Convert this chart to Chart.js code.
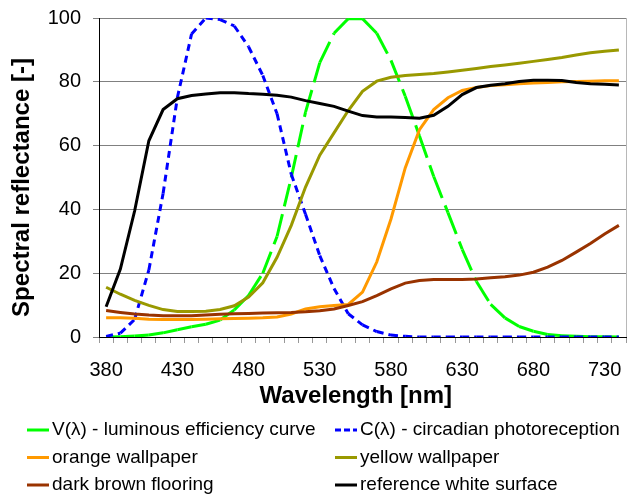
<!DOCTYPE html>
<html>
<head>
<meta charset="utf-8">
<script src="https://cdn.jsdelivr.net/npm/chart.js@4.4.1/dist/chart.umd.min.js"></script>
<style>
  html, body { margin: 0; padding: 0; background: #fff; }
  #wrap { position: relative; width: 634px; height: 494px; }
</style>
</head>
<body>
<div id="wrap"><canvas id="spectrumChart" width="634" height="494"></canvas></div>
<script>
const wavelengths = [380, 390, 400, 410, 420, 430, 440, 450, 460, 470, 480, 490, 500, 510, 520, 530, 540, 550, 560,
    570, 580, 590, 600, 610, 620, 630, 640, 650, 660, 670, 680, 690, 700, 710, 720, 730, 740];

const vLambda = [0, 0.1, 0.3, 0.6, 1.3, 2.3, 3.2, 4.0, 5.3, 8.5, 13, 20, 31.5, 50, 70.5, 86, 95.2, 99.8, 99.8,
    95.2, 86.7, 75.5, 63, 50.3, 39, 27.5, 17.4, 10.2, 6.0, 3.3, 1.8, 0.8, 0.4, 0.2, 0.1, 0.05, 0];
const cLambda = [0.2, 1.2, 5.5, 21, 45, 75, 95, 100, 99.5, 97.5, 91, 82, 70, 51, 38.5, 25.5, 15.2, 7.3, 3.8,
    1.7, 0.6, 0.2, 0, 0, 0, 0, 0, 0, 0, 0, 0, 0, 0, 0, 0, 0, 0];
const orangeWallpaper = [6.0, 6.0, 5.9, 5.6, 5.5, 5.5, 5.5, 5.6, 5.7, 5.8, 5.9, 6.0, 6.3, 7.2, 8.8, 9.5, 9.9, 10.2, 14.1,
    23.5, 37, 53, 65, 71.3, 75, 77.3, 78.2, 78.8, 79.1, 79.4, 79.6, 79.8, 80, 80.1, 80.2, 80.3, 80.3];
const yellowWallpaper = [15.6, 13.4, 11.5, 9.9, 8.6, 8.0, 8.0, 8.1, 8.6, 9.8, 12.5, 17, 25, 35, 47, 57, 64, 71, 77,
    80.2, 81.4, 82, 82.3, 82.6, 83.1, 83.6, 84.2, 84.8, 85.3, 85.8, 86.4, 87, 87.6, 88.4, 89.1, 89.6, 90];
const darkBrownFlooring = [8.3, 7.7, 7.2, 6.9, 6.7, 6.7, 6.7, 6.9, 7.1, 7.3, 7.4, 7.5, 7.6, 7.7, 7.9, 8.2, 8.8, 9.9, 11.1,
    13.0, 15.1, 16.9, 17.7, 18.0, 18.0, 18.0, 18.2, 18.6, 18.9, 19.4, 20.3, 21.9, 24.0, 26.6, 29.3, 32.3, 35.0];
const referenceWhite = [9.5, 21.3, 39.5, 61.5, 71.3, 74.7, 75.7, 76.2, 76.6, 76.6, 76.3, 76.1, 75.8, 75.2, 74.1, 73.2, 72.3, 70.8, 69.4,
    69.0, 69.0, 68.8, 68.6, 69.5, 72.3, 76, 78.2, 78.9, 79.4, 80.1, 80.5, 80.5, 80.4, 79.8, 79.4, 79.2, 79.0];

const seriesLabels = ['V(λ) - luminous efficiency curve', 'C(λ) - circadian photoreception', 'orange wallpaper',
    'yellow wallpaper', 'dark brown flooring', 'reference white surface'];

const FONT = '"Liberation Sans", Arial, sans-serif';

// Excel restarts the dash pattern at every data point, so split each segment into its own path
const restartDash = { borderDashOffset: ctx => (ctx.p0DataIndex % 2 ? 0.001 : 0) };

function series(label, data, color, dash, order) {
    return {
        label: label,
        data: data,
        borderColor: color,
        backgroundColor: color,
        borderWidth: 3,
        borderDash: dash,
        pointRadius: 0,
        tension: 0,
        fill: false,
        order: order,
        segment: dash.length ? restartDash : undefined
    };
}

const legendPlugin = {
    id: 'twoColLegend',
    afterDraw(chart) {
        const ctx = chart.ctx;
        const colX = [27, 335];
        const rowY = [430, 457.5, 485];
        chart.data.datasets.forEach((ds, i) => {
            const x = colX[i % 2], y = rowY[Math.floor(i / 2)];
            ctx.save();
            ctx.strokeStyle = ds.borderColor;
            ctx.lineWidth = ds.borderWidth;
            ctx.setLineDash(ds.borderDash.length ? [6, 3] : []);
            if (i === 0) ctx.setLineDash([]);
            ctx.beginPath();
            ctx.moveTo(x, y);
            ctx.lineTo(x + 22, y);
            ctx.stroke();
            ctx.fillStyle = '#000';
            ctx.font = '19px ' + FONT;
            ctx.textBaseline = 'middle';
            ctx.fillText(ds.label, x + 25, y);
            ctx.restore();
        });
    }
};

const borderPlugin = {
    id: 'plotBorder',
    afterDraw(chart) {
        const a = chart.chartArea, ctx = chart.ctx;
        ctx.save();
        ctx.strokeStyle = '#b8b8b8';
        ctx.lineWidth = 1;
        ctx.beginPath();
        ctx.moveTo(Math.round(a.right) + 0.5, a.top);
        ctx.lineTo(Math.round(a.right) + 0.5, a.bottom);
        ctx.stroke();
        ctx.restore();
    }
};

new Chart(document.getElementById('spectrumChart'), {
    type: 'line',
    data: {
        labels: wavelengths,
        datasets: [
            series(seriesLabels[0], vLambda, '#00ff00', [23, 8], 5),
            series(seriesLabels[1], cLambda, '#0000ff', [7, 5], 4),
            series(seriesLabels[2], orangeWallpaper, '#ff9900', [], 3),
            series(seriesLabels[3], yellowWallpaper, '#999900', [], 2),
            series(seriesLabels[4], darkBrownFlooring, '#993300', [], 1),
            series(seriesLabels[5], referenceWhite, '#000000', [], 0)
        ]
    },
    options: {
        responsive: false,
        animation: false,
        layout: { padding: { left: 0, right: 8, top: 18, bottom: 82 } },
        plugins: { legend: { display: false }, tooltip: { enabled: false } },
        scales: {
            x: {
                type: 'category',
                offset: true,
                afterFit: s => { s.height = 75; },
                grid: { offset: true, drawOnChartArea: false, drawTicks: true, tickLength: 6, color: '#999999' },
                border: { color: '#000000', width: 1 },
                ticks: {
                    autoSkip: false,
                    maxRotation: 0,
                    padding: 15,
                    color: '#000',
                    font: { family: FONT, size: 20 },
                    callback: (v, i) => (i % 5 === 0 ? wavelengths[i] : '')
                },
                title: {
                    display: true,
                    // trailing spaces nudge the centred title left, as in the original
                    text: 'Wavelength [nm]  ',
                    color: '#000',
                    font: { family: FONT, size: 24, weight: 'bold' },
                    padding: { top: 0, bottom: 1 }
                }
            },
            y: {
                min: 0,
                max: 100,
                afterFit: s => { s.width = 99; s.paddingTop = 0; s.paddingBottom = 0; },
                grid: { color: '#808080', tickLength: 6, drawTicks: true },
                border: { color: '#000000', width: 1 },
                ticks: {
                    stepSize: 20,
                    padding: 12,
                    color: '#000',
                    font: { family: FONT, size: 20 }
                },
                title: {
                    display: true,
                    // trailing spaces push the rotated title down a little
                    text: 'Spectral reflectance [-]   ',
                    color: '#000',
                    font: { family: FONT, size: 24, weight: 'bold' },
                    padding: { top: 8, bottom: 0 }
                }
            }
        }
    },
    plugins: [legendPlugin, borderPlugin]
});
</script>
</body>
</html>
